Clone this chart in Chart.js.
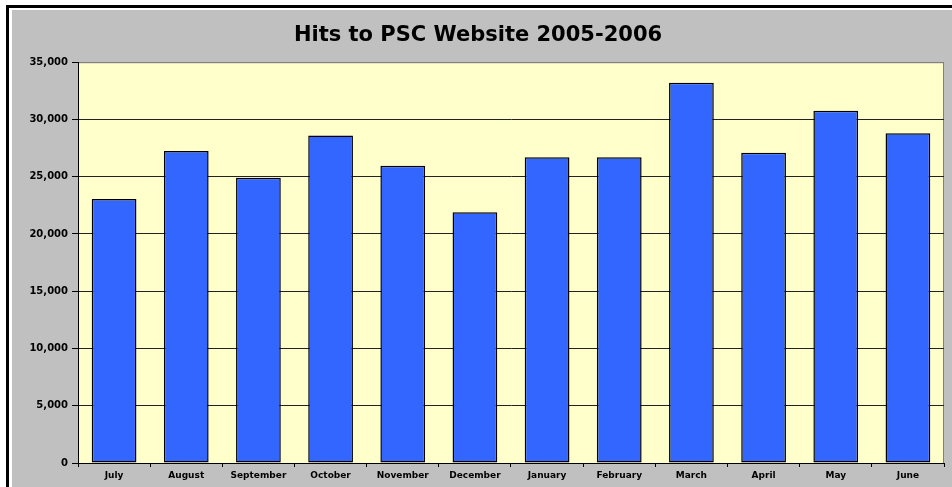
<!DOCTYPE html>
<html>
<head>
<meta charset="utf-8">
<script src="https://cdn.jsdelivr.net/npm/chart.js@4"></script>
<style>
  body { margin: 0; background: #fff; }
  #frame {
    position: absolute; left: 6px; top: 5px; right: 0; bottom: 0;
    border-left: 3px solid #000; border-top: 3px solid #000;
  }
  #box {
    position: absolute; left: 12px; top: 10px; width: 940px; height: 477px;
    background: #c0c0c0;
  }
</style>
</head>
<body>
<div id="frame"></div>
<div id="box"><canvas id="hitsChart"></canvas></div>
<script>
// hits per month, fiscal year july 2005 - june 2006
const months = ['July', 'August', 'September', 'October', 'November', 'December',
                'January', 'February', 'March', 'April', 'May', 'June'];
const hits = [23050, 27250, 24900, 28600, 25950, 21900, 26700, 26700, 33200, 27100, 30750, 28800];
const yTicks = [0, 5000, 10000, 15000, 20000, 25000, 30000, 35000];

// pale yellow plot area with the grey frame like the old excel chart
const plotArea = {
    id: 'plotArea',
    beforeDraw(chart) {
        const { ctx, chartArea: a } = chart;
        ctx.save();
        ctx.fillStyle = '#ffffcc';
        ctx.fillRect(a.left, a.top, a.right - a.left, a.bottom - a.top);
        ctx.strokeStyle = '#808080';
        ctx.lineWidth = 1;
        ctx.strokeRect(a.left + 0.5, a.top + 0.5, a.right - a.left - 1, a.bottom - a.top);
        ctx.restore();
    }
};

Chart.defaults.font.family = "'DejaVu Sans', sans-serif";
Chart.defaults.color = '#000';

let hitsChart = new Chart('hitsChart', {
    type: 'bar',
    data: {
        labels: months,
        datasets: [{
            label: 'Hits',
            data: hits,
            backgroundColor: '#3366ff',
            borderColor: '#000',
            borderWidth: 1.5,
            borderSkipped: false,
            barPercentage: 0.62,
            categoryPercentage: 1
        }]
    },
    plugins: [plotArea],
    options: {
        responsive: true,
        maintainAspectRatio: false,
        animation: false,
        layout: {
            padding: { left: 0, right: 8, top: 0, bottom: 0 }
        },
        scales: {
            x: {
                grid: {
                    drawOnChartArea: false,
                    offset: true,
                    tickLength: 4,
                    tickColor: '#000'
                },
                border: { color: '#000', width: 1 },
                ticks: {
                    font: { size: 9, weight: 'bold' },
                    padding: 3,
                    maxRotation: 0
                },
                afterFit: s => { s.height = 24; }
            },
            y: {
                min: 0,
                max: 35000,
                afterBuildTicks: s => { s.ticks = yTicks.map(v => ({ value: v })); },
                grid: {
                    color: c => c.tick && c.tick.value === 35000 ? '#808080' : '#222',
                    tickLength: 6,
                    tickColor: '#000'
                },
                border: { color: '#000', width: 1 },
                ticks: {
                    font: { size: 10, weight: 'bold' },
                    padding: 4,
                    callback: v => v.toLocaleString('en-US')
                },
                afterFit: s => { s.width = 66; }
            }
        },
        plugins: {
            legend: { display: false },
            tooltip: { enabled: false },
            title: {
                display: true,
                text: 'Hits to PSC Website 2005-2006',
                color: '#000',
                font: { size: 21, weight: 'bold' },
                padding: { top: 13, bottom: 14 }
            }
        }
    }
});
</script>
</body>
</html>
